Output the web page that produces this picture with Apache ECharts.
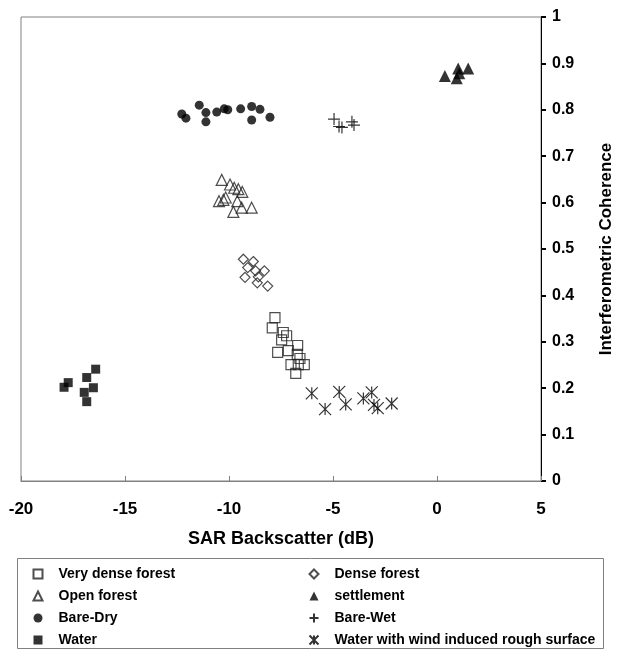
<!DOCTYPE html>
<html>
<head>
<meta charset="utf-8">
<script src="https://cdn.jsdelivr.net/npm/echarts@6/dist/echarts.min.js"></script>
<style>
html,body{margin:0;padding:0;background:#fff;}
#chart{width:617px;height:655px;}
</style>
</head>
<body>
<div id="chart"></div>
<script>
// SAR backscatter (dB), interferometric coherence pairs
var veryDenseForest = [[-7.79,0.352],[-7.92,0.330],[-7.39,0.320],[-7.23,0.313],[-7.47,0.304],[-7.66,0.277],[-7.15,0.281],[-6.70,0.292],[-6.72,0.273],[-6.59,0.264],[-7.02,0.251],[-6.67,0.251],[-6.38,0.251],[-6.79,0.232]];
var denseForest = [[-9.31,0.478],[-8.83,0.473],[-9.10,0.460],[-8.72,0.453],[-8.30,0.453],[-9.23,0.439],[-8.59,0.440],[-8.64,0.427],[-8.14,0.420]];
var openForest = [[-10.35,0.649],[-9.95,0.639],[-9.75,0.632],[-9.55,0.629],[-9.36,0.623],[-10.48,0.603],[-10.27,0.606],[-10.16,0.611],[-9.60,0.603],[-9.39,0.589],[-9.79,0.580],[-8.91,0.589]];
var settlement = [[0.38,0.873],[1.02,0.889],[1.50,0.889],[0.95,0.868],[1.07,0.879]];
var bareDry = [[-12.27,0.791],[-12.07,0.782],[-11.43,0.810],[-11.11,0.794],[-11.11,0.774],[-10.59,0.795],[-10.23,0.802],[-10.06,0.800],[-9.44,0.802],[-8.91,0.807],[-8.91,0.778],[-8.51,0.801],[-8.03,0.784]];
var bareWet = [[-4.95,0.780],[-4.71,0.764],[-4.57,0.762],[-4.09,0.774],[-3.99,0.767]];
var water = [[-17.73,0.212],[-17.93,0.202],[-16.41,0.241],[-16.84,0.223],[-16.52,0.201],[-16.96,0.191],[-16.84,0.171]];
var waterRough = [[-6.02,0.189],[-5.38,0.155],[-4.70,0.192],[-4.39,0.165],[-3.54,0.178],[-3.14,0.191],[-3.03,0.164],[-2.85,0.157],[-2.18,0.167]];

var xTitle = 'SAR Backscatter (dB)';
var yTitle = 'Interferometric Coherence';
var legendCol1 = ['Very dense forest','Open forest','Bare-Dry','Water'];
var legendCol2 = ['Dense forest','settlement','Bare-Wet','Water with wind induced rough surface'];

var FONT = "'Liberation Sans', Arial, sans-serif";
var hollow = {color:'rgba(255,255,255,0)', borderColor:'#222', borderWidth:1.2};
var solid = {color:'#000'};
var stroke = {color:'rgba(0,0,0,0)', borderColor:'#000', borderWidth:1.2};

function S(name, data, symbol, size, style){
  return {type:'scatter', name:name, data:data, symbol:symbol, symbolSize:size, itemStyle:style, z:3};
}

var chart = echarts.init(document.getElementById('chart'), null, {renderer:'canvas'});
var legendBase = {
  orient:'vertical', itemWidth:9, itemHeight:9, itemGap:6, padding:0, height:120, width:290,
  textStyle:{fontFamily:FONT, fontWeight:'bold', fontSize:14, color:'#000', lineHeight:16, padding:[0,0,0,11]},
  selectedMode:false, top:566
};
chart.setOption({
  animation:false,
  backgroundColor:'#fff',
  grid:{left:21, right:76, top:17, bottom:174, show:true, borderColor:'#808080', borderWidth:1, outerBoundsMode:'none', containLabel:false},
  xAxis:{
    type:'value', min:-20, max:5, interval:5, position:'bottom',
    name:xTitle, nameLocation:'middle', nameGap:49,
    nameTextStyle:{fontFamily:FONT, fontWeight:'bold', fontSize:18, color:'#000'},
    axisLine:{show:true, onZero:false, lineStyle:{color:'#808080', width:1}},
    axisTick:{show:true, inside:true, length:5, lineStyle:{color:'#808080'}},
    axisLabel:{fontFamily:FONT, fontWeight:'bold', fontSize:17, color:'#000', margin:20},
    splitLine:{show:false}
  },
  yAxis:{
    type:'value', min:0, max:1, interval:0.1, position:'right',
    name:yTitle, nameLocation:'middle', nameGap:57, nameRotate:90,
    nameTextStyle:{fontFamily:FONT, fontWeight:'bold', fontSize:17, color:'#000'},
    axisLine:{show:true, onZero:false, lineStyle:{color:'#000', width:1}},
    axisTick:{show:true, inside:false, length:5, lineStyle:{color:'#000', width:2}},
    axisLabel:{fontFamily:FONT, fontWeight:'bold', fontSize:16, color:'#000', margin:11},
    splitLine:{show:false}
  },
  legend:[
    Object.assign({}, legendBase, {left:32.5, data:legendCol1}),
    Object.assign({}, legendBase, {left:308.5, data:legendCol2})
  ],
  graphic:[{type:'rect', shape:{x:17.5, y:558.5, width:586, height:90}, style:{fill:'none', stroke:'#808080', lineWidth:1}, z:-1}],
  series:[
    S('Very dense forest', veryDenseForest, 'rect', 10, hollow),
    S('Dense forest', denseForest, 'diamond', 10, hollow),
    S('Open forest', openForest, 'triangle', 11, hollow),
    S('settlement', settlement, 'triangle', 12, solid),
    S('Bare-Dry', bareDry, 'circle', 9, solid),
    S('Bare-Wet', bareWet, 'path://M0,5L10,5M5,0L5,10', 12, stroke),
    S('Water', water, 'rect', 9, solid),
    S('Water with wind induced rough surface', waterRough, 'path://M0,0L10,10M10,0L0,10M5,0L5,10', 12, stroke)
  ]
});
</script>
</body>
</html>
